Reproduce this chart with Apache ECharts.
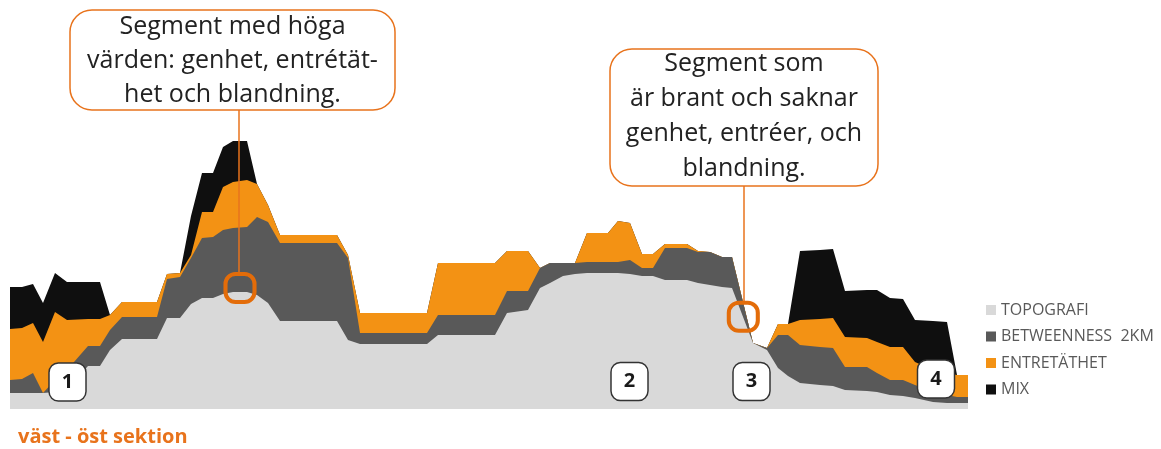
<!DOCTYPE html>
<html>
<head>
<meta charset="utf-8">
<script src="https://cdn.jsdelivr.net/npm/echarts@6/dist/echarts.min.js"></script>
<style>
  html, body { margin: 0; padding: 0; background: #fff; }
  #chart { width: 1161px; height: 449px; }
</style>
</head>
<body>
<div id="chart"></div>
<script>
// Distance along the west–east section
const dist = [0, 12, 23, 33, 45, 57, 78, 90, 100, 112, 147, 157, 170, 181, 192, 203, 213, 223, 237, 247,
  258, 270, 327, 338, 350, 417, 428, 485, 497, 518, 530, 540, 553, 565, 577, 598, 608, 620, 632, 643,
  655, 677, 688, 700, 712, 722, 743, 757, 768, 778, 790, 810, 823, 835, 857, 867, 880, 893, 905, 923,
  937, 947, 958];

// Layer thicknesses, stacked from the ground up
const topografi = [16, 16, 16, 16, 17, 20, 43, 43, 59, 70, 70, 91, 91, 105, 111, 111, 115, 117, 117, 114,
  106, 88, 88, 69, 65, 65, 74, 74, 96, 99, 121, 126, 133, 135, 136, 136, 136, 135, 133, 133,
  129, 129, 126, 124, 122, 121, 66, 59, 41, 33, 26, 24, 23, 19, 18, 17, 14, 13, 11, 7,
  6, 6, 6];
const betweenness = [13, 14, 20, 0, 12, 19, 20, 20, 20, 22, 22, 39, 41, 46, 60, 61, 64, 64, 65, 78,
  81, 78, 78, 82, 11, 11, 20, 20, 22, 19, 20, 20, 13, 11, 11, 11, 11, 14, 8, 8,
  32, 32, 31, 33, 30, 31, 0, 2, 33, 41, 38, 38, 38, 23, 24, 19, 15, 16, 13, 10,
  8, 6, 6];
const entretathet = [51, 51, 50, 51, 68, 50, 27, 27, 15, 15, 15, 5, 4, 3, 26, 25, 43, 46, 47, 33,
  17, 8, 8, 3, 20, 20, 52, 52, 40, 40, 0, 0, 0, 0, 29, 29, 41, 37, 14, 14,
  4, 4, 1, 0, 0, 0, 0, 0, 11, 11, 25, 28, 30, 30, 29, 31, 33, 33, 23, 22,
  22, 22, 22];
const mix = [42, 41, 39, 39, 39, 38, 37, 37, 0, 0, 0, 0, 0, 39, 39, 39, 40, 41, 39, 0,
  0, 0, 0, 0, 0, 0, 0, 0, 0, 0, 0, 0, 0, 0, 0, 0, 0, 0, 0, 0,
  0, 0, 0, 0, 0, 0, 0, 0, 0, 0, 69, 69, 69, 46, 48, 52, 49, 48, 42, 49,
  51, 0, 0];

const seriesNames = ['TOPOGRAFI', 'BETWEENNESS  2KM', 'ENTRETÄTHET', 'MIX'];
const seriesColors = ['#d9d9d9', '#595959', '#f39214', '#0f0f0f'];
const layers = [topografi, betweenness, entretathet, mix];

// Numbered segment tags: [distance, height, label]
const segmentTags = [[57.5, 27, '1'], [619.5, 27.5, '2'], [741.5, 27.5, '3'], [926, 30, '4']];

// Highlighted ground points: [distance, height]
const highlights = [[230, 121], [733.3, 92.3]];

const calloutTexts = [
  'Segment med höga\nvärden: genhet, entrétät-\nhet och blandning.',
  'Segment som\när brant och saknar\ngenhet, entréer, och\nblandning.'
];
const titleText = 'väst - öst sektion';

const accent = '#e8731c';
const ringPath = 'path://M10,0 L19,0 C24.5,0 29,4.5 29,10 L29,18 C29,23.5 24.5,28 19,28 ' +
  'L10,28 C4.5,28 0,23.5 0,18 L0,10 C0,4.5 4.5,0 10,0 Z';

// Running totals: each layer's top edge is the sum of itself and all layers below
const cumulative = [];
layers.forEach((vals, i) => {
  cumulative.push(vals.map((v, k) => v + (i > 0 ? cumulative[i - 1][k] : 0)));
});

const chart = echarts.init(document.getElementById('chart'), null, { renderer: 'canvas' });

// Highest layer is filled first, each lower layer painted over it
const series = [];
for (let i = layers.length - 1; i >= 0; i--) {
  series.push({
    name: seriesNames[i],
    type: 'line',
    data: cumulative[i].map((v, k) => [dist[k], v]),
    showSymbol: false,
    symbol: 'none',
    lineStyle: { width: 0 },
    areaStyle: { color: seriesColors[i], opacity: 1, origin: 'start' },
    itemStyle: { color: seriesColors[i] },
    silent: true
  });
}

// Markers drawn on top of everything (attached to the last painted series)
const groundSeries = series[series.length - 1];
groundSeries.markLine = {
  silent: true,
  symbol: 'none',
  animation: false,
  label: { show: false },
  lineStyle: { color: accent, width: 1.5, type: 'solid' },
  data: [
    [{ coord: [229, 137] }, { coord: [229, 299] }],
    [{ coord: [734, 108] }, { coord: [734, 223] }]
  ]
};
groundSeries.markPoint = {
  silent: true,
  animation: false,
  data: highlights.map(h => ({
    coord: h, symbol: ringPath, symbolSize: [29, 28], symbolKeepAspect: false,
    itemStyle: { color: 'rgba(0,0,0,0)', borderColor: '#e36c09', borderWidth: 4 },
    label: { show: false }
  })).concat(segmentTags.map(t => ({
    coord: [t[0], t[1]], symbol: 'roundRect', symbolSize: [37, 38],
    itemStyle: { color: '#ffffff', borderColor: '#333333', borderWidth: 1.5 },
    label: {
      show: true, formatter: t[2], position: 'inside',
      color: '#1a1a1a', fontSize: 20, fontWeight: 'bold', fontFamily: 'Open Sans'
    }
  })))
};

chart.setOption({
  animation: false,
  backgroundColor: '#ffffff',
  grid: { left: 10, right: 191, top: 9, bottom: 40 },
  xAxis: { type: 'value', min: 0, max: 960, show: false },
  yAxis: { type: 'value', min: 0, max: 400, show: false },
  legend: {
    orient: 'vertical',
    left: 986,
    top: 302,
    padding: 0,
    icon: 'rect',
    itemWidth: 10,
    itemHeight: 10,
    itemGap: 10.5,
    selectedMode: false,
    textStyle: { color: '#595959', fontSize: 16, lineHeight: 16, fontFamily: 'Open Sans' },
    data: seriesNames
  },
  series: series,
  graphic: [
    {
      type: 'rect', z: 100,
      shape: { x: 70, y: 10, width: 325, height: 100, r: 22 },
      style: { fill: '#ffffff', stroke: accent, lineWidth: 1.5 }
    },
    {
      type: 'text', z: 101,
      style: {
        text: calloutTexts[0], x: 232.5, y: 61, align: 'center', verticalAlign: 'middle',
        font: '25px "Open Sans"', lineHeight: 34, fill: '#222222'
      }
    },
    {
      type: 'rect', z: 100,
      shape: { x: 610, y: 49, width: 268, height: 137, r: 22 },
      style: { fill: '#ffffff', stroke: accent, lineWidth: 1.5 }
    },
    {
      type: 'text', z: 101,
      style: {
        text: calloutTexts[1], x: 744, y: 116, align: 'center', verticalAlign: 'middle',
        font: '25px "Open Sans"', lineHeight: 35, fill: '#222222'
      }
    },
    {
      type: 'text', z: 101,
      style: {
        text: titleText, x: 18, y: 437, verticalAlign: 'middle',
        font: 'bold 20px "Open Sans"', fill: accent
      }
    }
  ]
});
</script>
</body>
</html>
